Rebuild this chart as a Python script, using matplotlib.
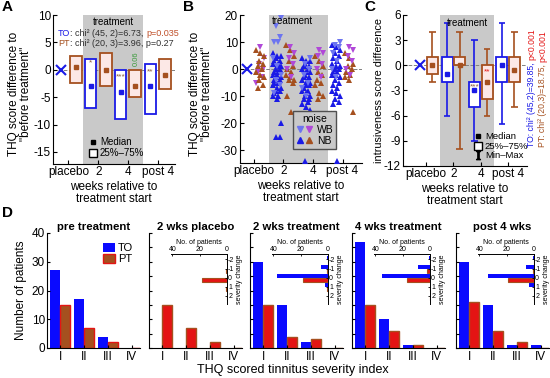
import matplotlib
matplotlib.use('Agg')
import matplotlib.pyplot as plt
import numpy as np
from matplotlib.lines import Line2D
from matplotlib.patches import Patch
from matplotlib.legend_handler import HandlerTuple

plt.rcParams['font.family'] = ['Liberation Sans', 'DejaVu Sans']
plt.rcParams['mathtext.fontset'] = 'stix'
plt.rcParams['xtick.direction'] = 'in'
plt.rcParams['ytick.direction'] = 'in'
plt.rcParams['axes.linewidth'] = 0.8
plt.rcParams['axes.unicode_minus'] = False

W, H = 550, 378

BLUE = '#1a1ae6'
BARBLUE = '#0a0aff'
BROWN = '#a5501f'
RED = '#e41414'
PURPLE = '#b048d8'
LIGHTBLUE = '#6c74f0'
GREY = '#c9c9c9'
PVAL = '#c0502a'
STAR = '#8a5a3a'

groups = ['placebo', '2', '4', 'post 4']

# --- panel A: THQ score difference (TO has no placebo -> reference X) ---
a_to_q1 = [-7, -9, -8]
a_to_q3 = [2, 0, 1]
a_to_med = [-3, -4, -3]
a_pt_q1 = [-2.5, -3, -5, -3.5]
a_pt_q3 = [2.5, 3, 0, 2]
a_pt_med = [0.5, 0, -3, -1]

# --- panel B: individual patients, WB / NB noise ---
b_pla_pt_wb = [8, 4, 2, 0, -1, -3, -5]
b_pla_pt_nb = [7, 6, 5, 3, 2, 1, 0, -1, -2, -3, -4, -6, -7]
b_wk2_to_wb = [19, 16, 12, 10, 10, 4, 1, -2, -4, -6, -9]
b_wk2_to_nb = [6, 5, 5, 4, 3, 3, 2, 2, 1, 1, 0, 0, -1, -1, -2, -2, -3, -3, -4,
               -5, -5, -6, -7, -7, -8, -8, -9, -10, -10, -11, -20, -25, -25, -4]
b_wk2_pt_wb = [8, 6, 4, 2, 0, -3]
b_wk2_pt_nb = [9, 7, 5, 3, 1, 0, -1, -2, -3, -4, -4, -5, -10, -16]
b_wk4_to_wb = [4, 2, 0, -2, -5, -7, -10]
b_wk4_to_nb = [4, 3, 3, 2, 1, 1, 0, 0, -1, -1, -2, -3, -3, -4, -4, -5, -5, -6,
               -6, -7, -8, -8, -9, -10, -10, -11, -11, -12, -13, -14, -15, -34]
b_wk4_pt_wb = [7, 6, 5, 2, 0, -3]
b_wk4_pt_nb = [5, 3, 1, -1, -2, -4, -5, -6, -9, -10, -11, -17]
b_post_to_wb = [10, 9, 8, 6, 3, 0, -3]
b_post_to_nb = [9, 8, 7, 6, 5, 4, 3, 2, 1, 1, 0, 0, -1, -1, -2, -2, -3, -4, -5,
                -6, -7, -8, -9, -10, -11, -12, -13, -34]
b_post_pt_wb = [8, 7, 5, 3, 0, -2]
b_post_pt_nb = [6, 4, 2, 1, 0, -1, -2, -3, -4, -16]

# --- panel C: intrusiveness score difference ---
c_to_min = [-6, -9, -7]
c_to_q1 = [-2, -5, -2]
c_to_med = [-1, -3, 0]
c_to_q3 = [1, -2, 1]
c_to_max = [5, 3, 5]
c_pt_min = [-2, -10, -6, -5]
c_pt_q1 = [-1, 0, -4, -2]
c_pt_med = [0, 0, -2, -0.5]
c_pt_q3 = [1, 1, 0, 1]
c_pt_max = [4, 4, 2, 4]

# --- panel D: severity index histograms ---
sev_labels = ['I', 'II', 'III', 'IV']
d_titles = ['pre treatment', '2 wks placebo', '2 wks treatment', '4 wks treatment', 'post 4 wks']
d_pre_to = [27, 17, 4, 0]
d_pre_pt = [15, 7, 2, 0]
d_pla_pt = [15, 7, 2, 0]
d_wk2_to = [30, 15, 2, 0]
d_wk2_pt = [15, 4, 3, 0]
d_wk4_to = [37, 10, 1, 0]
d_wk4_pt = [15, 6, 1, 0]
d_post_to = [30, 15, 1, 1]
d_post_pt = [16, 6, 2, 0]

# insets: severity change counts
sev_change = [-2, -1, 0, 1, 2]
i_pla_pt = [0, 1, 18, 1, 0]
i_wk2_to = [1, 5, 37, 2, 0]
i_wk2_pt = [0, 1, 18, 1, 0]
i_wk4_to = [1, 9, 35, 0, 0]
i_wk4_pt = [0, 2, 17, 0, 0]
i_post_to = [1, 6, 34, 4, 0]
i_post_pt = [0, 1, 19, 0, 0]

fig = plt.figure(figsize=(5.5, 3.78), dpi=100)


def px_axes(left, top, right, bottom):
    return fig.add_axes([left / W, 1 - bottom / H, (right - left) / W, (bottom - top) / H])


def multicolor(x, y, parts, size, rotation=0):
    # x, y in pixels from the top-left corner
    r = fig.canvas.get_renderer()
    inv = fig.transFigure.inverted()
    y = H - y
    space = size * 100 / 72 * 0.28
    for s, c in parts:
        fx, fy = inv.transform((x, y))
        t = fig.text(fx, fy, s.strip(), color=c, fontsize=size, rotation=rotation,
                     rotation_mode='anchor', ha='left', va='baseline')
        bb = t.get_window_extent(r)
        gap = space if s.endswith(' ') else 0
        if rotation == 0:
            x = bb.x1 + gap
        else:
            y = bb.y1 + gap


def style_top(ax, xlim, ylim, yticks, ylabel, label_x, label_y=0.47, label_size=8.5):
    ax.set_xlim(xlim)
    ax.set_ylim(ylim)
    ax.axvspan(0.5, 2.5, color=GREY, lw=0, zorder=0)
    ax.axhline(0, color='#808080', ls='--', lw=0.7, zorder=1)
    ax.set_xticks(range(4))
    ax.set_xticklabels(groups)
    ax.set_yticks(yticks)
    ax.tick_params(labelsize=8.5, length=3, pad=1.5)
    ax.spines[['top', 'right']].set_visible(False)
    ax.set_xlabel('weeks relative to\ntreatment start', fontsize=8.5, labelpad=2, linespacing=1.05)
    ax.set_ylabel(ylabel, fontsize=label_size, linespacing=1.05)
    ax.yaxis.set_label_coords(label_x, label_y)


x = np.arange(4)

# ---------------- A ----------------
axA = px_axes(53, 15, 175, 164)
style_top(axA, (-0.52, 3.58), (-17.2, 10), [-15, -10, -5, 0, 5, 10],
          'THQ score difference to\n"before treatment"', -0.17)
axA.bar(x[1:] - 0.25, np.subtract(a_to_q3, a_to_q1), bottom=a_to_q1, width=0.36,
        facecolor='white', edgecolor=BLUE, lw=1.3, zorder=2)
axA.bar(x + 0.25, np.subtract(a_pt_q3, a_pt_q1), bottom=a_pt_q1, width=0.4,
        facecolor='#fce8e6', edgecolor=BROWN, lw=1.3, zorder=2)
axA.plot(x[1:] - 0.25, a_to_med, 's', color=BLUE, ms=3.5, zorder=3)
axA.plot(x + 0.25, a_pt_med, 's', color=BROWN, ms=3.5, zorder=3)
axA.plot(-0.25, 0, 'x', color=BLUE, ms=7, mew=1.5, zorder=3)
axA.text(0.75, 1.0, '*', color=STAR, fontsize=6, ha='center', zorder=4)
axA.text(1.75, -1.6, '***', color=STAR, fontsize=6, ha='center', zorder=4)
axA.text(2.75, -0.6, '**', color=STAR, fontsize=6, ha='center', zorder=4)
axA.text(2.27, 0.6, '0.06', color='#3a9a3a', fontsize=5.5, rotation=90, ha='center', va='bottom', zorder=4)
axA.text(1.5, 9.6, 'treatment', fontsize=7, ha='center', va='top')
axA.legend(handles=[Line2D([], [], marker='s', color='k', ls='none', ms=3.5),
                    Line2D([], [], marker='s', mfc='white', mec='k', ls='none', ms=5.5)],
           labels=['Median', '25%–75%'], loc='lower left', bbox_to_anchor=(0.25, 0.0),
           frameon=False, fontsize=7, handlelength=0.8, handletextpad=0.3,
           labelspacing=0.1, borderpad=0.1)
multicolor(58, 36, [('TO', BLUE), (': chi² (45, 2)=6.73, ', '#303030'), ('p=0.035', PVAL)], 6.5)
multicolor(58, 46, [('PT', BROWN), (': chi² (20, 3)=3.96, p=0.27', '#303030')], 6.5)

# ---------------- B ----------------
axB = px_axes(240, 15, 362, 163)
style_top(axB, (-0.47, 3.66), (-34.7, 20), [-30, -20, -10, 0, 10, 20],
          'THQ score difference to\n"before treatment"', -0.22)


def swarm(ax, center, vals, marker, color, shift):
    offs = [(((i + shift) * 3) % 7 - 3) * 0.045 for i in range(len(vals))]
    ax.plot(center + np.array(offs), vals, marker, color=color, ms=4.2, mew=0,
            ls='none', zorder=3, clip_on=False)


swarm(axB, 0.22, b_pla_pt_wb, 'v', PURPLE, 1)
swarm(axB, 0.22, b_pla_pt_nb, '^', BROWN, 0)
for g, (to_wb, to_nb, pt_wb, pt_nb) in enumerate([
        (b_wk2_to_wb, b_wk2_to_nb, b_wk2_pt_wb, b_wk2_pt_nb),
        (b_wk4_to_wb, b_wk4_to_nb, b_wk4_pt_wb, b_wk4_pt_nb),
        (b_post_to_wb, b_post_to_nb, b_post_pt_wb, b_post_pt_nb)], start=1):
    swarm(axB, g - 0.22, to_nb, '^', BLUE, 0)
    swarm(axB, g - 0.22, to_wb, 'v', LIGHTBLUE, 2)
    swarm(axB, g + 0.22, pt_nb, '^', BROWN, 0)
    swarm(axB, g + 0.22, pt_wb, 'v', PURPLE, 1)
axB.plot(-0.22, 0, 'x', color=BLUE, ms=7, mew=1.5, zorder=3)
axB.text(0.62, 19.5, 'treatment', fontsize=7, ha='left', va='top')
lh = [(Line2D([], [], marker='v', color=LIGHTBLUE, ls='none', ms=4.5),
       Line2D([], [], marker='v', color=PURPLE, ls='none', ms=4.5)),
      (Line2D([], [], marker='^', color=BLUE, ls='none', ms=4.5),
       Line2D([], [], marker='^', color=BROWN, ls='none', ms=4.5))]
legB = axB.legend(handles=lh, labels=['WB', 'NB'], title='noise',
                  handler_map={tuple: HandlerTuple(ndivide=None, pad=0.2)},
                  loc='lower left', bbox_to_anchor=(0.39, 0.06), fontsize=7.5,
                  title_fontsize=7.5, handlelength=1.6, handletextpad=0.4,
                  labelspacing=0.1, borderpad=0.3, fancybox=False, framealpha=1)
legB.get_frame().set_facecolor(GREY)
legB.get_frame().set_edgecolor('#505050')

# ---------------- C ----------------
axC = px_axes(403, 15, 527, 166)
style_top(axC, (-0.84, 3.69), (-12, 6), [-12, -9, -6, -3, 0, 3, 6],
          'intrusiveness score difference', -0.15, 0.5, 7.8)
cap = 0.12
axC.vlines(x[1:] - 0.23, c_to_min, c_to_max, color=BLUE, lw=1.2, zorder=2)
axC.hlines(c_to_min, x[1:] - 0.23 - cap, x[1:] - 0.23 + cap, color=BLUE, lw=1.2, zorder=2)
axC.hlines(c_to_max, x[1:] - 0.23 - cap, x[1:] - 0.23 + cap, color=BLUE, lw=1.2, zorder=2)
axC.vlines(x + 0.23, c_pt_min, c_pt_max, color=BROWN, lw=1.2, zorder=2)
axC.hlines(c_pt_min, x + 0.23 - cap, x + 0.23 + cap, color=BROWN, lw=1.2, zorder=2)
axC.hlines(c_pt_max, x + 0.23 - cap, x + 0.23 + cap, color=BROWN, lw=1.2, zorder=2)
axC.bar(x[1:] - 0.23, np.subtract(c_to_q3, c_to_q1), bottom=c_to_q1, width=0.4,
        facecolor='white', edgecolor=BLUE, lw=1.3, zorder=3)
axC.bar(x + 0.23, np.subtract(c_pt_q3, c_pt_q1), bottom=c_pt_q1, width=0.4,
        facecolor='#fce8e6', edgecolor=BROWN, lw=1.3, zorder=3)
axC.plot(x[1:] - 0.23, c_to_med, 's', color=BLUE, ms=3.5, zorder=4)
axC.plot(x + 0.23, c_pt_med, 's', color=BROWN, ms=3.5, zorder=4)
axC.plot(-0.23, 0, 'x', color=BLUE, ms=7, mew=1.5, zorder=4)
axC.text(1.77, -2.75, '***', color=STAR, fontsize=6, ha='center', zorder=5)
axC.text(2.23, -0.95, '**', color=RED, fontsize=6, ha='center', zorder=5)
axC.text(1.5, 5.7, 'treatment', fontsize=7, ha='center', va='top')
axC.legend(handles=[Line2D([], [], marker='s', color='k', ls='none', ms=3.5),
                    Line2D([], [], marker='s', mfc='white', mec='k', ls='none', ms=5.5),
                    Line2D([], [], marker=r'$\mathrm{I}$', color='k', ls='none', ms=6)],
           labels=['Median', '25%–75%', 'Min–Max'], loc='lower left',
           bbox_to_anchor=(0.53, 0.0), frameon=False, fontsize=6.8, handlelength=0.8,
           handletextpad=0.3, labelspacing=0.05, borderpad=0.1)
multicolor(534, 147, [('TO: chi² (45,2)=39.85, ', BLUE), ('p<0.001', RED)], 6.2, rotation=90)
multicolor(545, 147, [('PT: chi² (20,3)=18.75, ', BROWN), ('p<0.001', RED)], 6.2, rotation=90)

# ---------------- D ----------------
d_to = [d_pre_to, None, d_wk2_to, d_wk4_to, d_post_to]
d_pt = [d_pre_pt, d_pla_pt, d_wk2_pt, d_wk4_pt, d_post_pt]
i_to = [None, None, i_wk2_to, i_wk4_to, i_post_to]
i_pt = [None, i_pla_pt, i_wk2_pt, i_wk4_pt, i_post_pt]
lefts = [47, 149, 250, 352, 456]
pos = np.arange(1, 5)
for k, left in enumerate(lefts):
    ax = px_axes(left, 233, left + 93, 348)
    ax.set_xlim(0.45, 4.35)
    ax.set_ylim(0, 40)
    ax.spines[['top', 'right']].set_visible(False)
    if d_to[k] is not None:
        ax.bar(pos - 0.21, d_to[k], width=0.42, color=BARBLUE, lw=0)
    if k == 0:
        ax.bar(pos + 0.21, d_pt[k], width=0.42, facecolor=BROWN, edgecolor=RED, lw=1)
    else:
        ax.bar(pos + 0.21, d_pt[k], width=0.42, facecolor=RED, edgecolor=BROWN, lw=1)
    ax.set_xticks(pos)
    ax.set_xticklabels(sev_labels)
    ax.tick_params(axis='x', length=2, labelsize=8.5, pad=2)
    ax.tick_params(axis='y', length=2.5, labelsize=8.5, pad=1.5)
    ax.set_title(d_titles[k], fontsize=8.2, fontweight='bold', pad=2)
    if k == 0:
        ax.set_yticks([0, 10, 20, 30, 40])
        ax.set_ylabel('Number of patients', fontsize=8.5, labelpad=3)
        ax.legend(handles=[Patch(facecolor=BARBLUE), Patch(facecolor=BROWN, edgecolor=RED)],
                  labels=['TO', 'PT'], loc='upper right', bbox_to_anchor=(1.0, 0.97),
                  frameon=False, fontsize=8, handlelength=1.1, handleheight=0.8,
                  handletextpad=0.3, labelspacing=0.1, borderpad=0.1)
    else:
        ax.set_yticks(range(0, 41, 5))
        ax.set_yticklabels([])
        ins = px_axes(left + 22, 254, left + 78, 304)
        ins.patch.set_alpha(0)
        ins.set_xlim(41, 0)
        ins.set_ylim(2.9, -2.6)
        if i_to[k] is not None:
            ins.barh(np.array(sev_change) - 0.2, i_to[k], height=0.45, color=BARBLUE, lw=0)
        ins.barh(np.array(sev_change) + 0.25, i_pt[k], height=0.45, facecolor=RED,
                 edgecolor=BROWN, lw=0.8)
        ins.spines[['left', 'bottom']].set_visible(False)
        ins.spines[['top', 'right']].set_linewidth(0.7)
        ins.xaxis.set_ticks_position('top')
        ins.xaxis.set_label_position('top')
        ins.yaxis.set_ticks_position('right')
        ins.yaxis.set_label_position('right')
        ins.set_xticks([40, 20, 0])
        ins.set_yticks(sev_change)
        ins.tick_params(labelsize=5, length=1.5, pad=0.8, width=0.6)
        ins.set_xlabel('No. of patients', fontsize=5, labelpad=1)
        ins.set_ylabel('severity change', fontsize=5, labelpad=1)

fig.text(293 / W, 1 - 370 / H, 'THQ scored tinnitus severity index', fontsize=9,
         ha='center', va='center')

for lab, (lx, ly) in zip('ABCD', [(2, 7), (183, 7), (364, 7), (2, 213)]):
    fig.text(lx / W, 1 - ly / H, lab, fontsize=11, fontweight='bold', va='center', ha='left')

fig.savefig('out.png', dpi=100)
